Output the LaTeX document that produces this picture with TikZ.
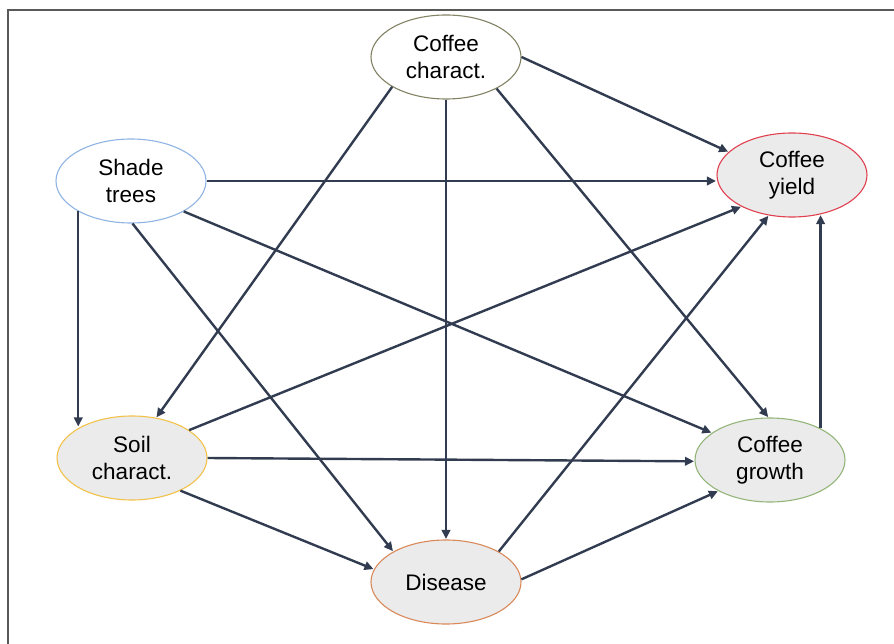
\documentclass[tikz,border=0pt]{standalone}
\usepackage{fontspec}
\setmainfont{Liberation Sans}
\usetikzlibrary{shapes.geometric,arrows.meta}
\definecolor{edgec}{RGB}{50,60,80}
\definecolor{fillg}{RGB}{235,235,235}
\definecolor{bcc}{RGB}{130,130,100}
\definecolor{bst}{RGB}{143,180,227}
\definecolor{bcy}{RGB}{224,64,79}
\definecolor{bsc}{RGB}{242,194,74}
\definecolor{bcg}{RGB}{147,181,122}
\definecolor{bdi}{RGB}{217,137,90}
\tikzset{
  var/.style={ellipse, draw, line width=1.1pt, minimum width=150pt, minimum height=84pt, inner sep=0pt, align=center, font=\fontsize{22.5}{27}\selectfont},
  link/.style={draw=edgec, line width=2.4pt, -{Triangle[length=9pt,width=8.5pt]}, shorten >=0.5pt}
}
\begin{document}
\begin{tikzpicture}[x=1pt,y=-1pt]
\useasboundingbox (0,0) rectangle (894,644);
\draw[line width=1.6pt, black!65] (8,644) -- (8,10) -- (894,10);
\node[var, draw=bcc, fill=white] (cc) at (446,57) {Coffee\\charact.};
\node[var, draw=bst, fill=white] (st) at (131,181) {Shade\\trees};
\node[var, draw=bcy, fill=fillg] (cy) at (792,175) {Coffee\\yield};
\node[var, draw=bsc, fill=fillg] (sc) at (132,458) {Soil\\charact.};
\node[var, draw=bcg, fill=fillg] (cg) at (770,460) {Coffee\\growth};
\node[var, draw=bdi, fill=fillg] (di) at (446,582) {Disease};
\draw[link] (cc.0) -- (cy.160);
\draw[link] (cc.209) -- (sc.59);
\draw[link] (cc.south) -- (di.north);
\draw[link] (cc.328) -- (cg.92);
\draw[link] (st.east) -- (st.east -| cy.west);
\draw[link] (st.210) -- (st.210 |- sc.149);
\draw[link] (st.272) -- (di.150);
\draw[link] (st.330) -- (cg.155);
\draw[link] (sc.26) -- (cy.212);
\draw[link] (sc.0) -- (cg.181);
\draw[link] (sc.326) -- (di.170);
\draw[link] (di.30) -- (cy.240);
\draw[link] (di.2) -- (cg.211);
\draw[link] (cg.32) -- (cg.32 |- cy.305);
\end{tikzpicture}
\end{document}
